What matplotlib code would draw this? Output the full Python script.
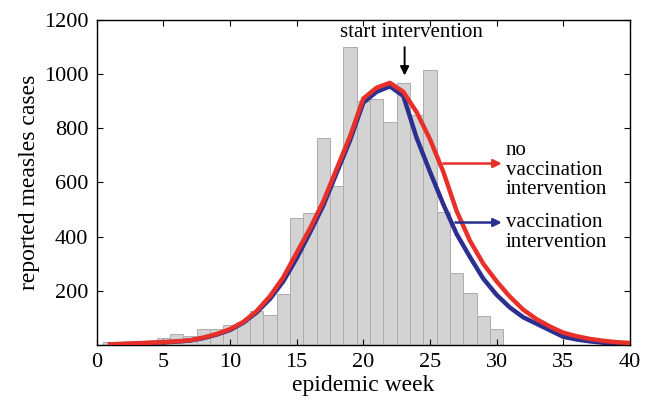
"""
Reported measles cases per epidemic week with model fits.
"""

import matplotlib.pyplot as plt
import numpy as np


WEEKS = np.arange(1, 31)

REPORTED_CASES = [
    12, 5, 5, 8, 25, 40, 32, 58, 60, 72,
    85, 125, 112, 188, 470, 488, 765, 588, 1100, 900,
    910, 825, 968, 850, 1015, 490, 265, 190, 108, 58,
]

MODEL_WEEKS = np.arange(1, 41)

NO_VACCINATION = [
    2, 4, 6, 8, 10, 13, 17, 27, 40, 58,
    85, 125, 180, 250, 340, 430, 530, 650, 770, 910,
    950, 968, 935, 860, 760, 640, 495, 385, 300, 235,
    178, 130, 95, 68, 45, 32, 22, 15, 10, 7,
]

VACCINATION = [
    1, 3, 5, 7, 9, 12, 16, 25, 38, 55,
    82, 120, 170, 235, 320, 415, 515, 635, 755, 895,
    935, 955, 920, 765, 640, 520, 410, 325, 245, 185,
    138, 102, 78, 54, 30, 20, 13, 8, 5, 3,
]

X_TICKS = [0, 5, 10, 15, 20, 25, 30, 35, 40]
Y_TICKS = [0, 200, 400, 600, 800, 1000, 1200]

RED = "#e8302a"
BLUE = "#2b2f8f"


def main():
    """
    Draw the epidemic curve figure.
    """

    plt.rcParams["font.family"] = ["Liberation Serif", "DejaVu Serif"]

    fig = plt.figure(figsize=(6.54, 4.01), dpi=100)
    ax = fig.add_axes([0.148, 0.140, 0.815, 0.810])

    ax.bar(
        WEEKS,
        REPORTED_CASES,
        width=1.0,
        color="#d3d3d3",
        edgecolor="#adadad",
        linewidth=0.7,
        zorder=1,
    )

    ax.plot(
        MODEL_WEEKS,
        VACCINATION,
        color=BLUE,
        linewidth=3.2,
        solid_joinstyle="round",
        zorder=2,
    )

    ax.plot(
        MODEL_WEEKS,
        NO_VACCINATION,
        color=RED,
        linewidth=3.2,
        solid_joinstyle="round",
        zorder=3,
    )

    # start of intervention
    ax.annotate(
        "",
        xy=(23.1, 985),
        xytext=(23.1, 1110),
        arrowprops=dict(
            arrowstyle="-|>",
            color="black",
            lw=1.4,
            mutation_scale=13,
        ),
        zorder=4,
    )
    ax.text(
        23.6,
        1155,
        "start intervention",
        ha="center",
        va="center",
        fontsize=15,
        zorder=4,
    )

    # curve labels
    ax.annotate(
        "",
        xy=(30.6, 670),
        xytext=(25.8, 670),
        arrowprops=dict(
            arrowstyle="-|>",
            color=RED,
            lw=1.8,
            mutation_scale=12,
        ),
        zorder=4,
    )
    ax.text(
        30.7,
        645,
        "no\nvaccination\nintervention",
        ha="left",
        va="center",
        fontsize=15,
        linespacing=1.05,
        zorder=4,
    )

    ax.annotate(
        "",
        xy=(30.6, 452),
        xytext=(26.7, 452),
        arrowprops=dict(
            arrowstyle="-|>",
            color=BLUE,
            lw=1.8,
            mutation_scale=12,
        ),
        zorder=4,
    )
    ax.text(
        30.7,
        415,
        "vaccination\nintervention",
        ha="left",
        va="center",
        fontsize=15,
        linespacing=1.05,
        zorder=4,
    )

    ax.set_xlim(0, 40)
    ax.set_ylim(0, 1200)

    ax.set_xticks(X_TICKS)
    ax.set_yticks(Y_TICKS)
    ax.set_yticklabels([""] + [str(t) for t in Y_TICKS[1:]])

    ax.tick_params(
        direction="in",
        top=True,
        right=True,
        length=4,
        width=0.8,
        labelsize=16,
        pad=6,
    )

    for spine in ax.spines.values():
        spine.set_linewidth(1.0)

    ax.set_xlabel("epidemic week", fontsize=17, labelpad=2)
    ax.set_ylabel("reported measles cases", fontsize=17, labelpad=3)

    fig.savefig("out.png", dpi=100)
    plt.close(fig)


if __name__ == "__main__":
    main()
